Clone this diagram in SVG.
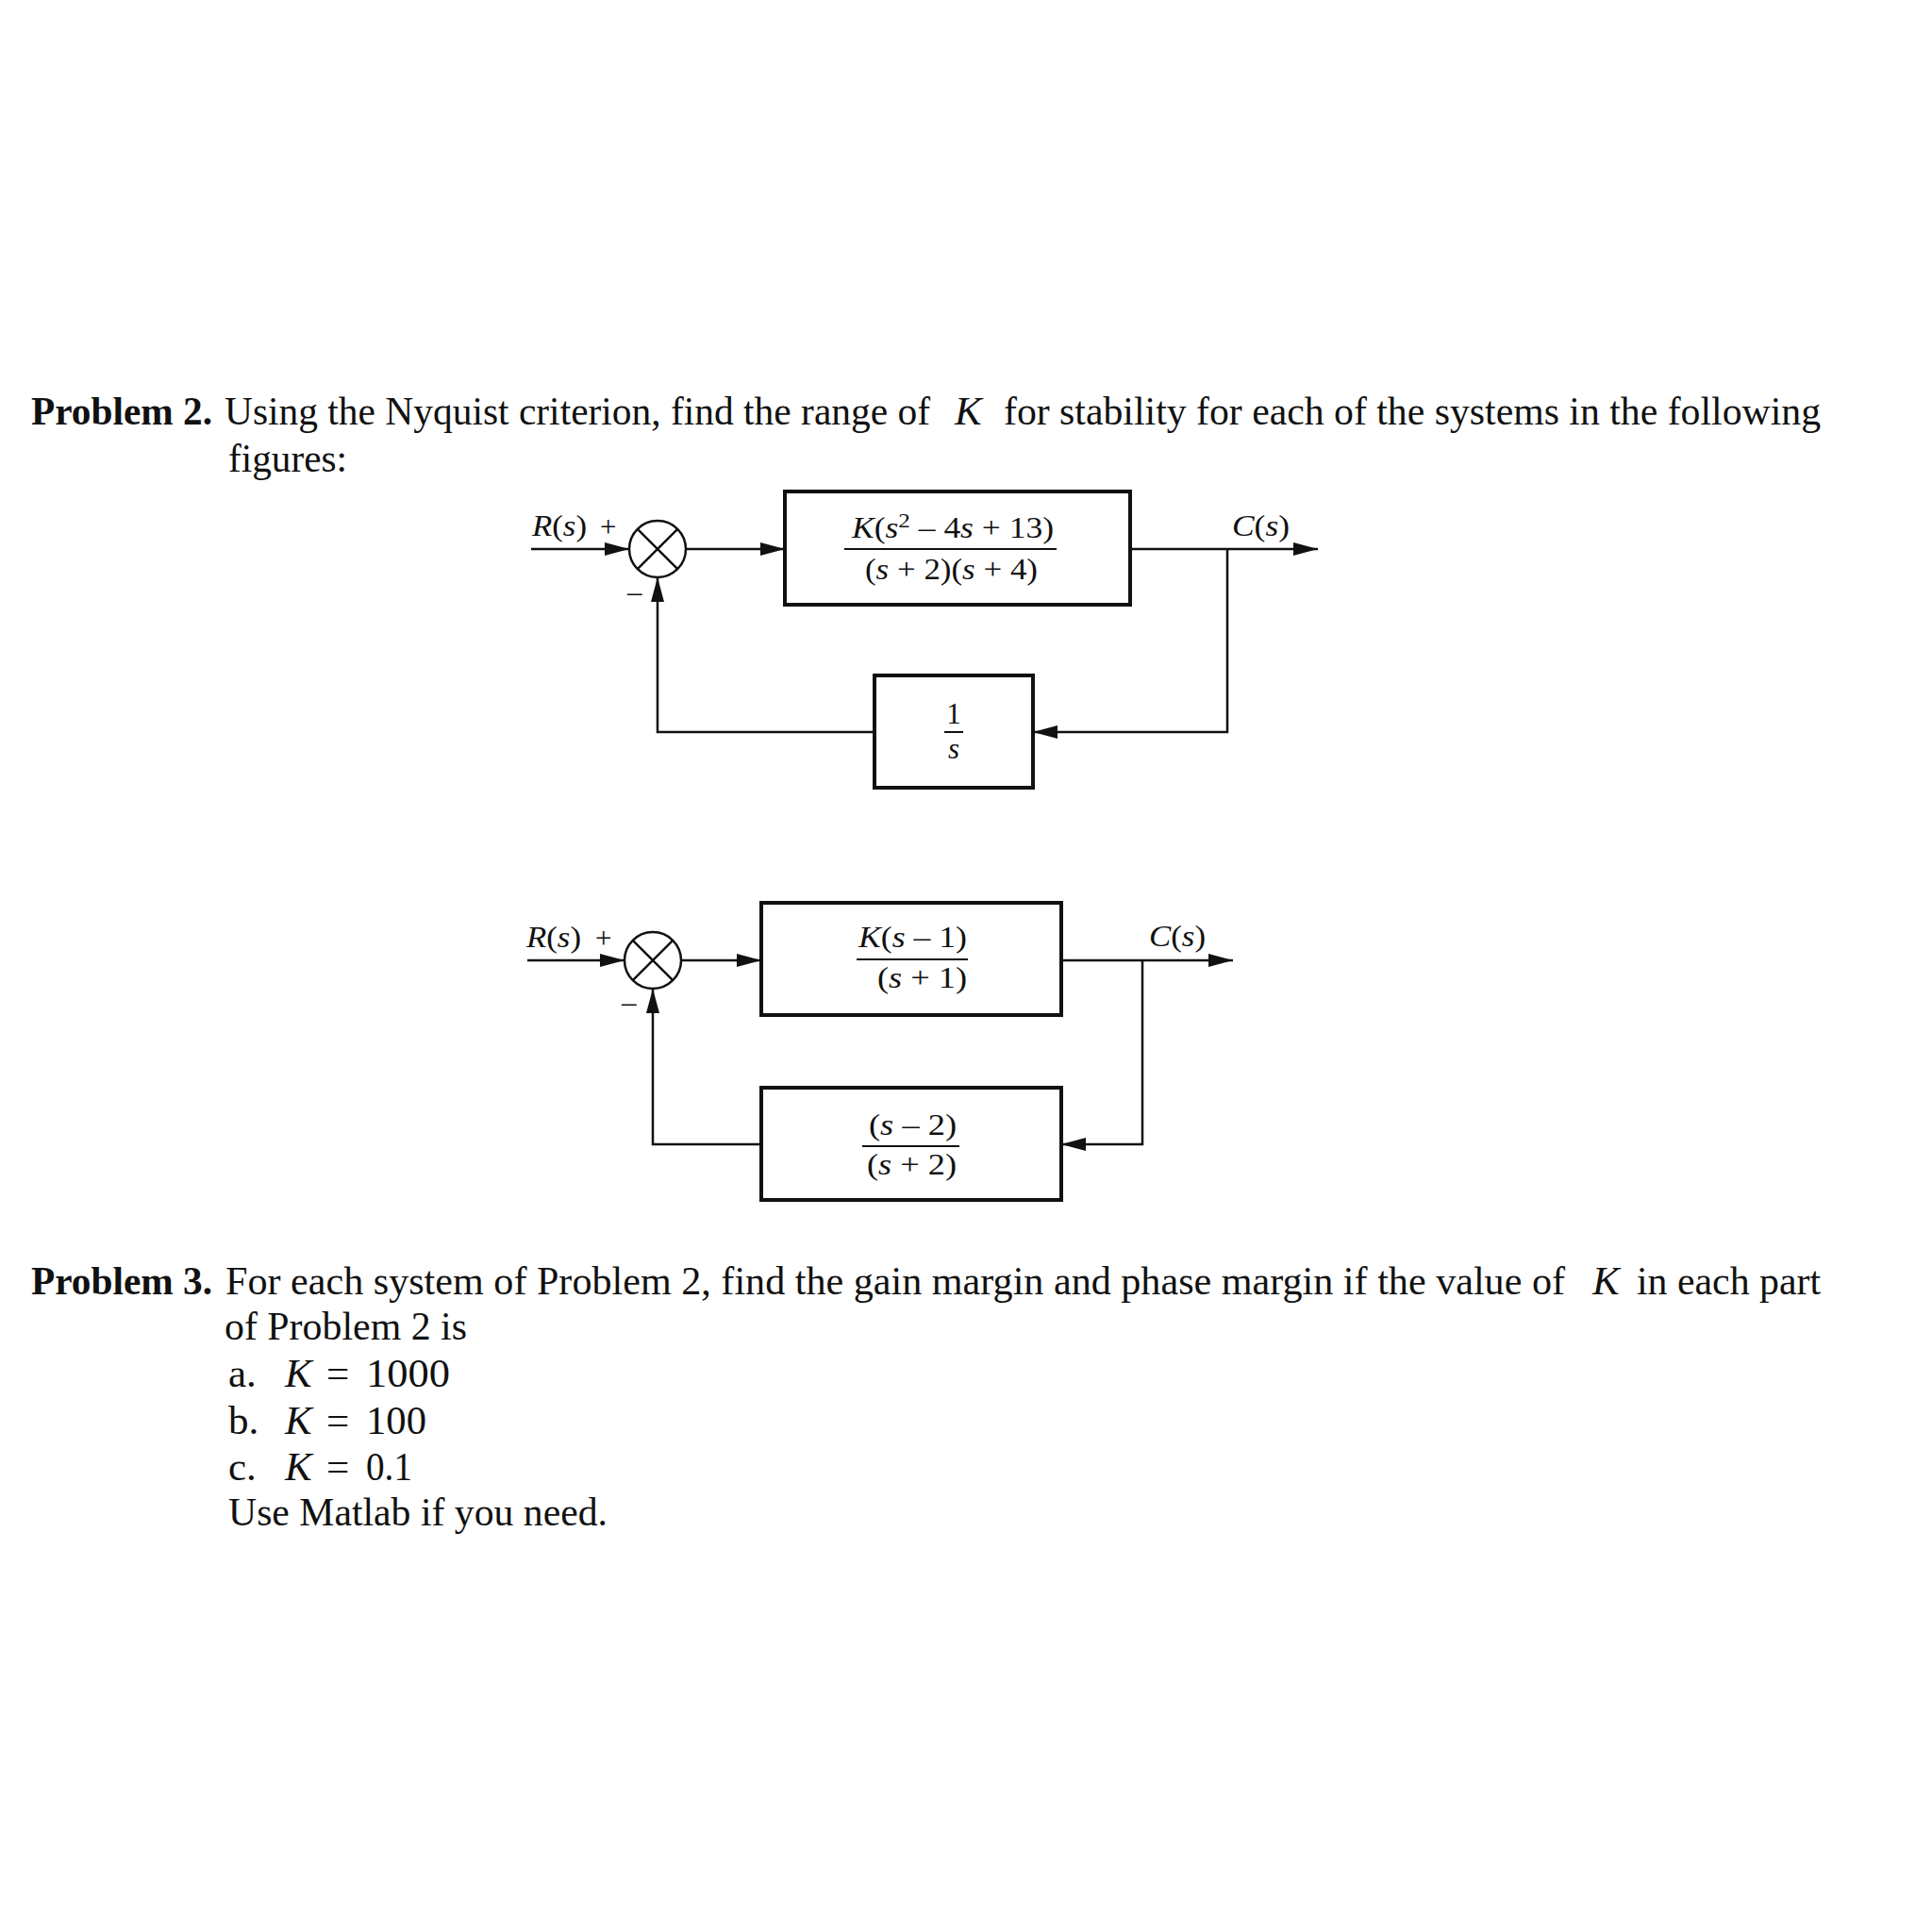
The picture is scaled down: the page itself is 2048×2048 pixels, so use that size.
<svg xmlns="http://www.w3.org/2000/svg" width="2048" height="2048" viewBox="0 0 2048 2048">
<style>
.t{font-family:"Liberation Serif","Times New Roman",serif;font-size:43px;fill:#111}
.b{font-weight:bold}
.i{font-style:italic}
.d{font-family:"Liberation Serif","Times New Roman",serif;font-size:31px;fill:#111}
.ln{fill:none;stroke:#111;stroke-width:2.5}
.box{fill:#fff;stroke:#111;stroke-width:4}
.sum{fill:#fff;stroke:#111;stroke-width:2.5}
.fr{stroke:#111;stroke-width:2}
</style>
<defs>
<marker id="ah" viewBox="0 0 26 14" refX="26" refY="7" markerWidth="26" markerHeight="14" markerUnits="userSpaceOnUse" orient="auto">
<path d="M0,0 L26,7 L0,14 z" fill="#111"/>
</marker>
</defs>
<rect width="2048" height="2048" fill="#fff"/>

<g id="problem2-text">
<text class="t b" x="33" y="450" textLength="192" lengthAdjust="spacingAndGlyphs">Problem 2.</text>
<text class="t" x="238" y="450" textLength="748" lengthAdjust="spacingAndGlyphs">Using the Nyquist criterion, find the range of</text>
<text class="t i" x="1012" y="450">K</text>
<text class="t" x="1064" y="450" textLength="866" lengthAdjust="spacingAndGlyphs">for stability for each of the systems in the following</text>
<text class="t" x="242" y="500" textLength="126" lengthAdjust="spacingAndGlyphs">figures:</text>
</g>

<g id="connectors">
<path class="ln" d="M563,582 H667" marker-end="url(#ah)"/>
<path class="ln" d="M727,582 H832" marker-end="url(#ah)"/>
<path class="ln" d="M1198,582 H1397" marker-end="url(#ah)"/>
<path class="ln" d="M1301,582 V776 H1095" marker-end="url(#ah)"/>
<path class="ln" d="M927,776 H697 V612" marker-end="url(#ah)"/>
<path class="ln" d="M559,1018 H662" marker-end="url(#ah)"/>
<path class="ln" d="M722,1018 H807" marker-end="url(#ah)"/>
<path class="ln" d="M1125,1018 H1307" marker-end="url(#ah)"/>
<path class="ln" d="M1211,1018 V1213 H1125" marker-end="url(#ah)"/>
<path class="ln" d="M807,1213 H692 V1048" marker-end="url(#ah)"/>
</g>

<g id="sum1">
<circle class="sum" cx="697" cy="582" r="30"/>
<path class="ln" d="M675.8,560.8 L718.2,603.2 M718.2,560.8 L675.8,603.2"/>
</g>
<g id="sum1-labels">
<text class="d" x="564" y="568" textLength="58" lengthAdjust="spacingAndGlyphs"><tspan class="i">R</tspan>(<tspan class="i">s</tspan>)</text>
<text class="d" x="636" y="569" font-size="34">+</text>
<text class="d" x="665" y="638">–</text>
</g>
<g id="G1">
<rect class="box" x="832" y="521" width="366" height="120"/>
<text class="d" x="903" y="570" textLength="214" lengthAdjust="spacingAndGlyphs"><tspan class="i">K</tspan>(<tspan class="i">s</tspan><tspan font-size="22" dy="-11">2</tspan><tspan dy="11"> – 4</tspan><tspan class="i">s</tspan> + 13)</text>
<line class="fr" x1="895" y1="582" x2="1120" y2="582"/>
<text class="d" x="917" y="614" textLength="183" lengthAdjust="spacingAndGlyphs">(<tspan class="i">s</tspan> + 2)(<tspan class="i">s</tspan> + 4)</text>
</g>
<g id="H1">
<rect class="box" x="927" y="716" width="168" height="119"/>
<text class="d" x="1011" y="767" text-anchor="middle">1</text>
<line class="fr" x1="1001" y1="776" x2="1021" y2="776"/>
<text class="d i" x="1011" y="804" text-anchor="middle">s</text>
</g>
<g id="out1">
<text class="d" x="1306" y="568" textLength="61" lengthAdjust="spacingAndGlyphs"><tspan class="i">C</tspan>(<tspan class="i">s</tspan>)</text>
</g>

<g id="sum2">
<circle class="sum" cx="692" cy="1018" r="30"/>
<path class="ln" d="M670.8,996.8 L713.2,1039.2 M713.2,996.8 L670.8,1039.2"/>
</g>
<g id="sum2-labels">
<text class="d" x="558" y="1004" textLength="58" lengthAdjust="spacingAndGlyphs"><tspan class="i">R</tspan>(<tspan class="i">s</tspan>)</text>
<text class="d" x="631" y="1005" font-size="34">+</text>
<text class="d" x="659" y="1073">–</text>
</g>
<g id="G2">
<rect class="box" x="807" y="957" width="318" height="119"/>
<text class="d" x="910" y="1004" textLength="115" lengthAdjust="spacingAndGlyphs"><tspan class="i">K</tspan>(<tspan class="i">s</tspan> – 1)</text>
<line class="fr" x1="908" y1="1017" x2="1026" y2="1017"/>
<text class="d" x="930" y="1047" textLength="95" lengthAdjust="spacingAndGlyphs">(<tspan class="i">s</tspan> + 1)</text>
</g>
<g id="H2">
<rect class="box" x="807" y="1153" width="318" height="119"/>
<text class="d" x="921" y="1203" textLength="93" lengthAdjust="spacingAndGlyphs">(<tspan class="i">s</tspan> – 2)</text>
<line class="fr" x1="914" y1="1215" x2="1017" y2="1215"/>
<text class="d" x="919" y="1245" textLength="95" lengthAdjust="spacingAndGlyphs">(<tspan class="i">s</tspan> + 2)</text>
</g>
<g id="out2">
<text class="d" x="1218" y="1003" textLength="60" lengthAdjust="spacingAndGlyphs"><tspan class="i">C</tspan>(<tspan class="i">s</tspan>)</text>
</g>

<g id="problem3-text">
<text class="t b" x="33" y="1372" textLength="192" lengthAdjust="spacingAndGlyphs">Problem 3.</text>
<text class="t" x="239" y="1372" textLength="1420" lengthAdjust="spacingAndGlyphs">For each system of Problem 2, find the gain margin and phase margin if the value of</text>
<text class="t i" x="1688" y="1372">K</text>
<text class="t" x="1735" y="1372" textLength="195" lengthAdjust="spacingAndGlyphs">in each part</text>
<text class="t" x="238" y="1420" textLength="257" lengthAdjust="spacingAndGlyphs">of Problem 2 is</text>
<text class="t" x="242" y="1470">a.</text>
<text class="t i" x="302" y="1470">K</text>
<text class="t" x="346" y="1470">=</text>
<text class="t" x="388" y="1470" textLength="89" lengthAdjust="spacingAndGlyphs">1000</text>
<text class="t" x="242" y="1520">b.</text>
<text class="t i" x="302" y="1520">K</text>
<text class="t" x="346" y="1520">=</text>
<text class="t" x="388" y="1520" textLength="64" lengthAdjust="spacingAndGlyphs">100</text>
<text class="t" x="242" y="1569">c.</text>
<text class="t i" x="302" y="1569">K</text>
<text class="t" x="346" y="1569">=</text>
<text class="t" x="388" y="1569" textLength="49" lengthAdjust="spacingAndGlyphs">0.1</text>
<text class="t" x="242" y="1617" textLength="402" lengthAdjust="spacingAndGlyphs">Use Matlab if you need.</text>
</g>
</svg>
